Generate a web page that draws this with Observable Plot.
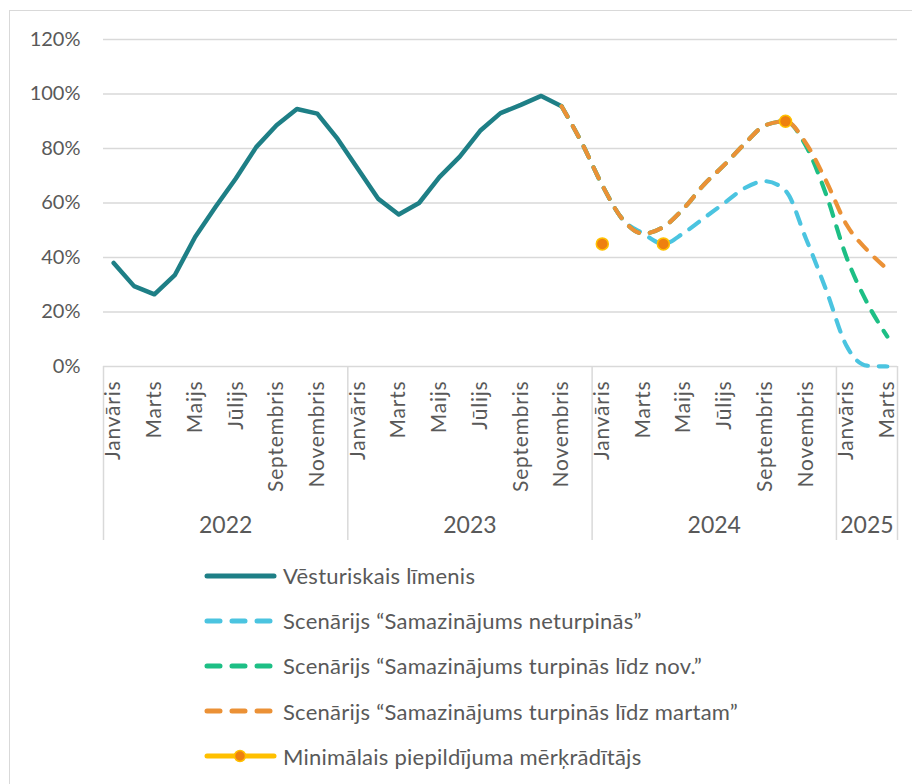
<!DOCTYPE html>
<html>
<head>
<meta charset="utf-8">
<script src="https://cdn.jsdelivr.net/npm/d3@7"></script>
<script src="https://cdn.jsdelivr.net/npm/@observablehq/plot@0.6"></script>
<style>
  html, body { margin: 0; padding: 0; background: #fff; }
  #wrap { position: relative; width: 912px; height: 784px; overflow: hidden; font-family: Lato, "Open Sans", sans-serif; }
  #frame { position: absolute; left: 9px; top: 10px; width: 920px; height: 800px; border: 1.5px solid #d9d9d9; box-sizing: border-box; }
  #chart { position: absolute; left: 0; top: 0; }
  #legend { position: absolute; left: 204px; top: 553px; }
  .row { display: flex; align-items: center; height: 45.2px; }
  .row span { font-size: 22px; letter-spacing: 0.25px; color: #595959; margin-left: 5px; white-space: nowrap; }
</style>
</head>
<body>
<div id="wrap">
  <div id="frame"></div>
  <div id="chart"></div>
  <div id="legend"></div>
</div>
<script>
// ---- data ----
const monthNames = ["Janvāris","Februāris","Marts","Aprīlis","Maijs","Jūnijs","Jūlijs","Augusts","Septembris","Oktobris","Novembris","Decembris"];
const years = ["2022","2023","2024","2025"];
const monthsPerYear = [12, 12, 12, 3];
const yTicks = [0, 20, 40, 60, 80, 100, 120];

// Historical level, Jan 2022 .. Nov 2023
const historical = [38, 29.5, 26.5, 33.5, 47.5, 58.5, 69, 80.5, 88.5, 94.5, 92.8, 83.5,
                    72.5, 61.5, 55.8, 60, 69.5, 77, 86.5, 93, 96, 99.3, 95.5];
// Scenarios, Nov 2023 .. Mar 2025
const scenarioStart = 22;
const scenNeturpinas = [95.5, 82, 66.5, 54, 48.8, 45, 49, 54.5, 60, 65.5, 68, 64.5, 47, 28, 7.5, 0.3, 0];
const scenLidzNov    = [95.5, 82, 66.5, 54, 48.8, 51.2, 58, 66.8, 74, 81.8, 88.5, 90, 81, 63, 40, 23.5, 11];
const scenLidzMartam = [95.5, 82, 66.5, 54, 48.8, 51.2, 58, 66.8, 74, 81.8, 88.5, 90, 82, 68, 52, 42.8, 35.7];
// Minimum filling target
const targetMonthIdx = [24, 27, 33];
const targetValues = [45, 45, 90];

const seriesNames = [
  "Vēsturiskais līmenis",
  "Scenārijs “Samazinājums neturpinās”",
  "Scenārijs “Samazinājums turpinās līdz nov.”",
  "Scenārijs “Samazinājums turpinās līdz martam”",
  "Minimālais piepildījuma mērķrādītājs"
];
const colors = {
  hist: "#1E7F86",
  cyan: "#4BC4E0",
  green: "#1DBF85",
  orange: "#EB9136",
  dotFill: "#EE8010",
  dotStroke: "#FFC000"
};

// ---- derived tables ----
const monthIdx = [];
years.forEach((y, yi) => { for (let m = 0; m < monthsPerYear[yi]; m++) monthIdx.push({idx: monthIdx.length, m}); });
const nMonths = monthIdx.length;
const yearBoundaries = [];
const yearCenters = [];
{
  let s = 0;
  monthsPerYear.forEach(n => { yearBoundaries.push(s - 0.5); yearCenters.push(s + (n - 1) / 2); s += n; });
  yearBoundaries.push(s - 0.5);
}
const labelledMonths = monthIdx.filter(d => d.m % 2 === 0).map(d => d.idx);

const histData = historical.map((v, i) => ({x: i, y: v}));
const toData = arr => arr.map((v, i) => ({x: scenarioStart + i, y: v}));
const cyanData = toData(scenNeturpinas);
const greenData = toData(scenLidzNov);
const orangeData = toData(scenLidzMartam);
const targetData = targetMonthIdx.map((x, i) => ({x, y: targetValues[i]}));

const dash = {strokeWidth: 4.2, strokeDasharray: "12,11", strokeLinecap: "round", strokeLinejoin: "round", curve: "monotone-x"};

const chart = Plot.plot({
  width: 912,
  height: 545,
  marginLeft: 103,
  marginRight: 15,
  marginTop: 39,
  marginBottom: 179,
  x: {domain: [-0.5, nMonths - 0.5]},
  y: {domain: [0, 120]},
  style: {fontFamily: "Lato, 'Open Sans', sans-serif", color: "#595959", background: "transparent", overflow: "visible"},
  marks: [
    Plot.gridY(yTicks.filter(t => t > 0), {stroke: "#d9d9d9", strokeOpacity: 1, strokeWidth: 1.5}),
    Plot.ruleY([0], {stroke: "#d9d9d9", strokeWidth: 1.5}),
    Plot.axisY(yTicks, {tickSize: 0, tickPadding: 23, tickFormat: d => d + "%", fontSize: 20, fill: "#595959", label: null}),
    Plot.axisX(yearBoundaries, {tickSize: 174, tickFormat: () => "", stroke: "#d9d9d9", strokeWidth: 1.5, strokeOpacity: 1, label: null}),
    Plot.axisX(labelledMonths, {tickSize: 0, tickPadding: 14, tickRotate: -90, tickFormat: i => monthNames[monthIdx[i].m], fontSize: 21, fill: "#595959", label: null}),
    Plot.axisX(yearCenters, {tickSize: 0, tickPadding: 150, tickFormat: d => years[yearCenters.indexOf(d)], fontSize: 23, fill: "#595959", label: null}),
    Plot.line(histData, {x: "x", y: "y", stroke: colors.hist, strokeWidth: 4.5, strokeLinejoin: "round", strokeLinecap: "round"}),
    Plot.line(cyanData, {x: "x", y: "y", stroke: colors.cyan, ...dash}),
    Plot.line(greenData, {x: "x", y: "y", stroke: colors.green, ...dash}),
    Plot.line(orangeData, {x: "x", y: "y", stroke: colors.orange, ...dash}),
    Plot.dot(targetData, {x: "x", y: "y", r: 6, fill: colors.dotFill, stroke: colors.dotStroke, strokeWidth: 1.5})
  ]
});
// slight letter spacing for the rotated month labels
d3.select(chart).selectAll("text")
  .filter(function() { return monthNames.includes(this.textContent); })
  .style("letter-spacing", "0.8px");
document.getElementById("chart").appendChild(chart);

// ---- legend ----
const legend = document.getElementById("legend");
const svgNS = "http://www.w3.org/2000/svg";
const legendStyles = [
  {stroke: colors.hist, dash: null},
  {stroke: colors.cyan, dash: "13,12"},
  {stroke: colors.green, dash: "13,12"},
  {stroke: colors.orange, dash: "13,12"},
  {stroke: colors.dotStroke, dash: null, dot: true}
];
seriesNames.forEach((name, i) => {
  const row = document.createElement("div");
  row.className = "row";
  const svg = document.createElementNS(svgNS, "svg");
  svg.setAttribute("width", 74);
  svg.setAttribute("height", 20);
  const st = legendStyles[i];
  const ln = document.createElementNS(svgNS, "line");
  ln.setAttribute("x1", 3); ln.setAttribute("x2", 70);
  ln.setAttribute("y1", 10); ln.setAttribute("y2", 10);
  ln.setAttribute("stroke", st.stroke);
  ln.setAttribute("stroke-width", 5);
  ln.setAttribute("stroke-linecap", "round");
  if (st.dash) ln.setAttribute("stroke-dasharray", st.dash);
  svg.appendChild(ln);
  if (st.dot) {
    const c = document.createElementNS(svgNS, "circle");
    c.setAttribute("cx", 36); c.setAttribute("cy", 10); c.setAttribute("r", 5.5);
    c.setAttribute("fill", colors.dotFill);
    c.setAttribute("stroke", colors.dotStroke);
    c.setAttribute("stroke-width", 1.5);
    svg.appendChild(c);
  }
  row.appendChild(svg);
  const t = document.createElement("span");
  t.textContent = name;
  row.appendChild(t);
  legend.appendChild(row);
});
</script>
</body>
</html>
